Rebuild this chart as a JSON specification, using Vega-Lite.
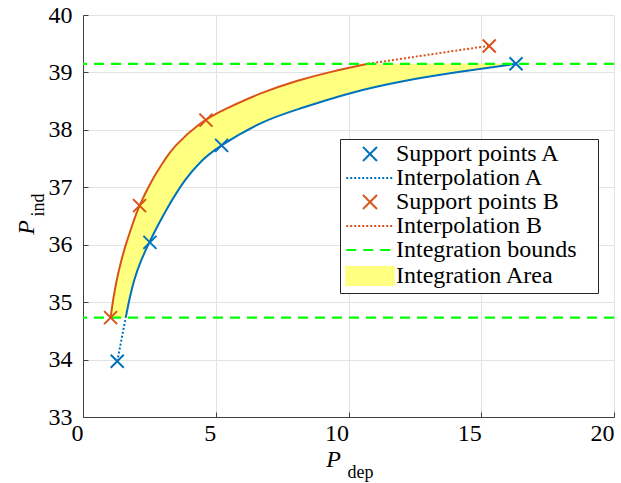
{
  "$schema": "https://vega.github.io/schema/vega-lite/v6.json",
  "width": 531,
  "height": 402,
  "autosize": {"type": "none"},
  "padding": {"left": 83, "top": 15, "right": 7, "bottom": 66},
  "background": "white",
  "config": {
    "view": {"stroke": null},
    "font": "Liberation Serif",
    "axis": {
      "labelFont": "Liberation Serif",
      "labelFontSize": 24,
      "labelColor": "black",
      "titleFont": "Liberation Serif",
      "titleColor": "black",
      "titleFontWeight": "normal",
      "domainColor": "#404040",
      "domainWidth": 1,
      "tickColor": "#404040",
      "tickSize": -5,
      "gridColor": "#e3e3e3",
      "gridWidth": 1,
      "labelOverlap": false,
      "labelFlush": false,
      "labelBound": false
    }
  },
  "datasets": {
    "band": [
      {"y": 34.73, "xB": 1.04, "xA": 1.61},
      {"y": 35.05, "xB": 1.14, "xA": 1.75},
      {"y": 35.38, "xB": 1.27, "xA": 1.93},
      {"y": 35.7, "xB": 1.43, "xA": 2.17},
      {"y": 36.04, "xB": 1.64, "xA": 2.5},
      {"y": 36.36, "xB": 1.87, "xA": 2.85},
      {"y": 36.68, "xB": 2.13, "xA": 3.23},
      {"y": 37.12, "xB": 2.6, "xA": 3.84},
      {"y": 37.45, "xB": 3.04, "xA": 4.45},
      {"y": 37.73, "xB": 3.5, "xA": 5.22},
      {"y": 38.11, "xB": 4.42, "xA": 6.67},
      {"y": 38.37, "xB": 5.4, "xA": 8.17},
      {"y": 38.63, "xB": 6.67, "xA": 10.0},
      {"y": 38.85, "xB": 8.05, "xA": 12.1},
      {"y": 39.01, "xB": 9.35, "xA": 14.2},
      {"y": 39.15, "xB": 10.74, "xA": 16.31}
    ],
    "tailA": [
      {"x": 1.29, "y": 33.97},
      {"x": 1.61, "y": 34.73}
    ],
    "tailB": [
      {"x": 10.74, "y": 39.15},
      {"x": 14.2, "y": 39.39},
      {"x": 15.3, "y": 39.46}
    ],
    "supportA": [
      {"x": 1.29, "y": 33.97},
      {"x": 2.52, "y": 36.04},
      {"x": 5.22, "y": 37.73},
      {"x": 16.31, "y": 39.15}
    ],
    "supportB": [
      {"x": 1.04, "y": 34.73},
      {"x": 2.13, "y": 36.68},
      {"x": 4.63, "y": 38.17},
      {"x": 15.3, "y": 39.46}
    ],
    "bounds": [
      {"label": "Integration bounds", "y": 34.73},
      {"label": "Integration bounds", "y": 39.15}
    ]
  },
  "layer": [
    {
      "data": {"name": "band"},
      "mark": {"type": "area", "orient": "horizontal", "interpolate": "natural", "fill": "#ffff80"},
      "encoding": {
        "y": {
          "field": "y", "type": "quantitative",
          "scale": {"domain": [33, 40], "nice": false, "zero": false},
          "axis": {
            "values": [33, 34, 35, 36, 37, 38, 39, 40],
            "labelAlign": "right", "labelBaseline": "middle", "labelPadding": 16,
            "title": "P", "titleFontSize": 24, "titleFontStyle": "italic",
            "titleAngle": 270, "titleX": -50, "titleY": 212,
            "titleAlign": "center", "titleBaseline": "alphabetic"
          }
        },
        "x": {
          "field": "xB", "type": "quantitative",
          "scale": {"domain": [0, 20], "nice": false, "zero": false},
          "axis": {
            "values": [0, 5, 10, 15, 20],
            "labelAlign": "right", "labelBaseline": "top", "labelPadding": 9,
            "title": "P", "titleFontSize": 24, "titleFontStyle": "italic",
            "titleX": 250, "titleY": 49,
            "titleAlign": "center", "titleBaseline": "alphabetic"
          }
        },
        "x2": {"field": "xA"}
      }
    },
    {
      "data": {"name": "band"},
      "mark": {"type": "line", "interpolate": "natural", "stroke": "#0072bd", "strokeWidth": 2},
      "encoding": {
        "x": {"field": "xA", "type": "quantitative", "axis": null},
        "y": {"field": "y", "type": "quantitative", "axis": null}
      }
    },
    {
      "data": {"name": "band"},
      "mark": {"type": "line", "interpolate": "natural", "stroke": "#d95319", "strokeWidth": 2},
      "encoding": {
        "x": {"field": "xB", "type": "quantitative", "axis": null},
        "y": {"field": "y", "type": "quantitative", "axis": null}
      }
    },
    {
      "data": {"name": "tailA"},
      "mark": {"type": "line", "stroke": "#0072bd", "strokeWidth": 2, "strokeDash": [2, 2]},
      "encoding": {
        "x": {
          "field": "x", "type": "quantitative",
          "axis": {
            "orient": "bottom", "labels": false, "ticks": false, "domain": false, "grid": false,
            "title": "dep", "titleFontSize": 18, "titleFontStyle": "normal",
            "titleX": 264, "titleY": 60, "titleAlign": "left", "titleBaseline": "alphabetic"
          }
        },
        "y": {
          "field": "y", "type": "quantitative",
          "axis": {
            "orient": "left", "labels": false, "ticks": false, "domain": false, "grid": false,
            "title": "ind", "titleFontSize": 18, "titleFontStyle": "normal",
            "titleAngle": 270, "titleX": -40, "titleY": 201, "titleAlign": "left", "titleBaseline": "alphabetic"
          }
        }
      }
    },
    {
      "data": {"name": "tailB"},
      "mark": {"type": "line", "interpolate": "natural", "stroke": "#d95319", "strokeWidth": 2, "strokeDash": [2, 2]},
      "encoding": {
        "x": {"field": "x", "type": "quantitative", "axis": null},
        "y": {"field": "y", "type": "quantitative", "axis": null}
      }
    },
    {
      "data": {"name": "bounds"},
      "mark": {"type": "rule", "strokeWidth": 2.2, "strokeDash": [10, 7]},
      "encoding": {
        "y": {"field": "y", "type": "quantitative", "axis": null},
        "color": {
          "field": "label", "type": "nominal",
          "scale": {
            "domain": ["Support points A", "Interpolation A", "Support points B", "Interpolation B", "Integration bounds", "Integration Area"],
            "range": ["#0072bd", "#0072bd", "#d95319", "#d95319", "#00ff00", "#ffff80"]
          },
          "legend": {
            "orient": "none", "legendX": 257, "legendY": 124,
            "title": null, "padding": 3,
            "strokeColor": "#262626", "fillColor": "white",
            "labelFont": "Liberation Serif", "labelFontSize": 24, "labelColor": "black", "labelLimit": 0,
            "labelExpr": "datum.label + '\u00a0\u00a0\u00a0\u200b'",
            "symbolSize": 196, "symbolOffset": 15, "labelOffset": 14, "rowPadding": 0,
            "symbolStrokeWidth": 2,
            "encode": {
              "symbols": {
                "update": {
                  "shape": {"signal": "['M-1,-1L1,1M-1,1L1,-1','M-3.4,0L3.4,0','M-1,-1L1,1M-1,1L1,-1','M-3.4,0L3.4,0','M-3.4,0L3.4,0','M-3.4,-1.3L3.4,-1.3L3.4,1.3L-3.4,1.3Z'][datum.index]"},
                  "strokeDash": {"signal": "[[1,0],[2,2],[1,0],[2,2],[10,7],[1,0]][datum.index]"},
                  "stroke": {"signal": "['#0072bd','#0072bd','#d95319','#d95319','#00ff00','#ffff80'][datum.index]"},
                  "fill": {"signal": "datum.index === 5 ? '#ffff80' : 'transparent'"},
                  "strokeWidth": {"value": 2},
                  "opacity": {"value": 1}
                }
              }
            }
          }
        }
      }
    },
    {
      "data": {"name": "supportA"},
      "mark": {"type": "point", "shape": "M-1,-1L1,1M-1,1L1,-1", "filled": false, "size": 169, "strokeWidth": 2, "stroke": "#0072bd", "opacity": 1},
      "encoding": {
        "x": {"field": "x", "type": "quantitative", "axis": null},
        "y": {"field": "y", "type": "quantitative", "axis": null}
      }
    },
    {
      "data": {"name": "supportB"},
      "mark": {"type": "point", "shape": "M-1,-1L1,1M-1,1L1,-1", "filled": false, "size": 169, "strokeWidth": 2, "stroke": "#d95319", "opacity": 1},
      "encoding": {
        "x": {"field": "x", "type": "quantitative", "axis": null},
        "y": {"field": "y", "type": "quantitative", "axis": null}
      }
    }
  ],
  "resolve": {"axis": {"x": "independent", "y": "independent"}}
}
